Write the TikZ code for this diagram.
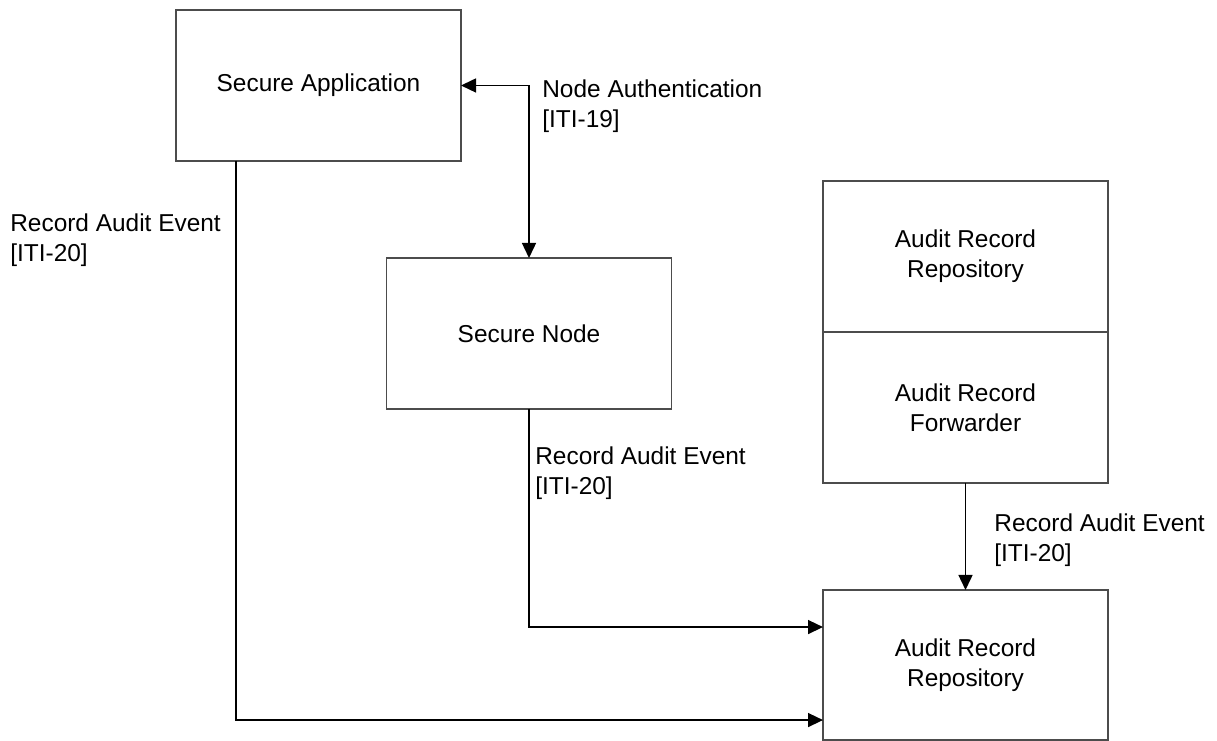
\documentclass[tikz,border=0pt]{standalone}
\usepackage{fontspec}
\setmainfont{Liberation Sans}
\usetikzlibrary{arrows.meta, calc, positioning}

\definecolor{boxGray}{gray}{0.30}
\newcommand{\diagramFont}{\fontsize{13.9}{17.1}\selectfont}

\begin{document}
\begin{tikzpicture}[
		>={Triangle[length = 0.30cm, width = 0.28cm]},
		actor/.style = {draw = boxGray, line width = 0.85pt, minimum width = 5.70cm, minimum height = 3.02cm, align = center, inner sep = 0pt, outer sep = 0pt, font = \diagramFont},
		link/.style = {draw = black, line width = 0.85pt, ->},
		linkLabel/.style = {anchor = north west, align = left, inner sep = 0pt, font = \diagramFont},
	]

		% page size
		\useasboundingbox (+0.00, +0.00) rectangle (+24.34, +14.82);

		% actors
		\begin{scope}

			% secure application and secure node
			\node[actor] (SA) at (+6.37, +13.11) {Secure Application};
			\node[actor] (SN) at (+10.58, +8.15) {Secure Node};

			% forwarding repository
			\node[actor] (ARRtop) at (+19.31, +9.69) {Audit Record\\Repository};
			\node[actor, below = 0pt of ARRtop] (ARF) {Audit Record\\Forwarder};

			% central repository
			\node[actor, minimum height = 3.00cm] (ARR) at (+19.31, +1.52) {Audit Record\\Repository};

		\end{scope}

		% transactions
		\begin{scope}

			% node authentication
			\draw[link, <->] (SA.east) -| (SN.north);

			% record audit event
			\draw[link] ($(SA.south west)!0.21!(SA.south east)$) |- ($(ARR.south west)!0.133!(ARR.north west)$);
			\draw[link] (SN.south) |- ($(ARR.south west)!0.753!(ARR.north west)$);
			\draw[link] (ARF.south) -- (ARR.north);

			% transaction labels
			\node[linkLabel] (lblAuth) at (+10.84, +13.24) {Node Authentication\\{[ITI-19]}};
			\node[linkLabel] (lblApp) at (+0.20, +10.56) {Record Audit Event\\{[ITI-20]}};
			\node[linkLabel] (lblNode) at (+10.70, +5.90) {Record Audit Event\\{[ITI-20]}};
			\node[linkLabel] (lblFwd) at (+19.88, +4.56) {Record Audit Event\\{[ITI-20]}};

		\end{scope}

	\end{tikzpicture}
\end{document}
